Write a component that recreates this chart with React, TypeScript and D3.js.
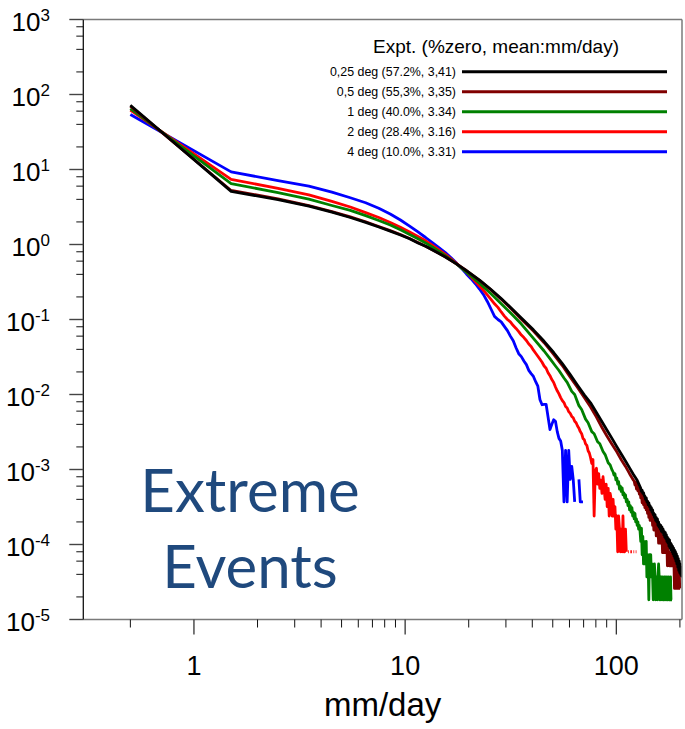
import React from "react";
import * as d3 from "d3";

// ---- axes ----
const xMajorTicks = [1, 10, 100];
const xMajorLabels = ["1", "10", "100"];
const xMinorTicks = [0.5, 2, 3, 4, 5, 6, 7, 8, 9, 20, 30, 40, 50, 60, 70, 80, 90, 200];
const yExponents = [-5, -4, -3, -2, -1, 0, 1, 2, 3];
const yMinorMantissas = [2, 4, 6, 8];
const xTitle = "mm/day";

// ---- legend ----
const legendTitle = "Expt. (%zero, mean:mm/day)";
const seriesNames = [
  "0,25 deg (57.2%, 3,41)",
  "0,5 deg (55,3%, 3,35)",
  "1 deg (40.0%, 3.34)",
  "2 deg (28.4%, 3.16)",
  "4 deg (10.0%, 3.31)",
];
const seriesColors = ["#000000", "#800000", "#008000", "#ff0000", "#0000ff"];

// ---- 0.25 deg ----
const bins025 = [0.5, 1.5, 2.5, 3.5, 4.5, 5.5, 6.5, 7.5, 8.5, 9.5, 10.5, 11.5, 12.5, 13.5, 15.5, 17.5, 19.5, 22.5, 25.5, 28.5, 31.5, 35.5, 40.5, 45.5, 50.5, 55.5, 60.5, 65.5, 70.5, 75.5, 80.5, 85.5, 90.5, 95.5, 100.5, 105.5, 110.5, 115.5, 120.5, 125.5, 130.5];
const pdf025 = [72, 5.1, 3.98, 3.24, 2.7, 2.29, 1.97, 1.71, 1.51, 1.34, 1.19, 1.05, 0.946, 0.843, 0.682, 0.551, 0.449, 0.335, 0.251, 0.19, 0.146, 0.105, 0.0728, 0.0512, 0.0363, 0.0258, 0.0184, 0.0133, 0.0099, 0.00774, 0.00575, 0.00433, 0.00331, 0.00258, 0.00202, 0.00161, 0.0013, 0.00105, 8.6e-4, 7.2e-4, 5.6e-4];
const tailStart025 = 131.5;
const tail025 = [5.1e-4, 5.3e-4, 4.8e-4, 4.9e-4, 4.5e-4,
  4.4e-4, 4.0e-4, 4.2e-4, 3.7e-4, 3.8e-4, 3.4e-4, 3.6e-4, 3.2e-4, 3.3e-4, 2.9e-4,
  3.1e-4, 2.7e-4, 2.9e-4, 2.5e-4, 2.6e-4, 2.3e-4, 2.5e-4, 2.1e-4, 2.3e-4, 2.0e-4,
  2.2e-4, 1.8e-4, 2.0e-4, 1.7e-4, 1.85e-4, 1.6e-4, 1.8e-4, 1.5e-4, 1.7e-4, 1.45e-4,
  1.6e-4, 1.35e-4, 1.5e-4, 1.25e-4, 1.45e-4, 1.2e-4, 1.35e-4, 1.1e-4, 1.25e-4, 1.05e-4,
  1.2e-4, 9.5e-5, 1.15e-4, 9.0e-5, 1.05e-4, 8.5e-5, 1.0e-4, 8.0e-5, 9.5e-5, 7.5e-5,
  9.0e-5, 7.0e-5, 8.5e-5, 6.5e-5, 8.0e-5, 6.0e-5, 7.5e-5, 5.5e-5, 7.0e-5, 5.0e-5,
  6.5e-5, 4.5e-5, 6.0e-5, 4.2e-5, 5.5e-5, 4.0e-5, 5.0e-5, 3.8e-5, 4.5e-5];

// ---- 0.5 deg ----
const bins05 = [0.5, 1.5, 2.5, 3.5, 4.5, 5.5, 6.5, 7.5, 8.5, 9.5, 10.5, 11.5, 12.5, 13.5, 15.5, 17.5, 19.5, 22.5, 25.5, 28.5, 31.5, 35.5, 40.5, 45.5, 50.5, 55.5, 60.5, 65.5, 70.5, 75.5, 80.5, 85.5, 90.5, 95.5, 100.5, 105.5, 110.5, 115.5, 120.5];
const pdf05 = [70, 5.25, 4.07, 3.31, 2.75, 2.33, 2.01, 1.74, 1.53, 1.36, 1.2, 1.06, 0.95, 0.847, 0.687, 0.553, 0.45, 0.333, 0.248, 0.186, 0.142, 0.101, 0.07, 0.049, 0.0343, 0.0243, 0.017, 0.0124, 0.0091, 0.0068, 0.005, 0.00363, 0.00275, 0.00216, 0.00172, 0.00135, 0.0011, 8.8e-4, 7.2e-4];
const tailStart05 = 121.5;
const tail05 = [7.0e-4, 6.2e-4, 6.8e-4, 5.5e-4, 6.5e-4, 5.2e-4, 5.7e-4, 4.7e-4, 5.2e-4, 4.2e-4,
  4.9e-4, 3.6e-4, 4.4e-4, 3.4e-4, 3.9e-4, 3.1e-4, 3.9e-4, 2.9e-4, 3.4e-4, 2.6e-4,
  3.4e-4, 2.3e-4, 2.9e-4, 2.1e-4, 2.9e-4, 2.1e-4, 2.6e-4, 1.8e-4, 2.3e-4, 1.56e-4,
  2.3e-4, 1.56e-4, 2.1e-4, 1.3e-4, 1.8e-4, 1.3e-4, 1.8e-4, 1.04e-4, 1.56e-4, 1.3e-4,
  1.04e-4, 1.56e-4, 1.04e-4, 1.3e-4, 7.8e-5, 1.3e-4, 1.04e-4, 7.8e-5, 1.3e-4, 7.8e-5,
  1.04e-4, 7.8e-5, 1.04e-4, 5.2e-5, 1.04e-4, 7.8e-5, 7.8e-5, 5.2e-5, 7.8e-5, 5.2e-5,
  7.8e-5, 5.2e-5, 7.8e-5, 5.2e-5, 7.8e-5, 5.2e-5, 5.2e-5, 2.6e-5, 7.8e-5, 5.2e-5,
  5.2e-5, 2.6e-5, 5.2e-5, 2.6e-5, 5.2e-5, 2.6e-5, 2.6e-5, 5.2e-5, 2.6e-5, 2.6e-5];

// ---- 1 deg ----
const bins1 = [0.5, 1.5, 2.5, 3.5, 4.5, 5.5, 6.5, 7.5, 8.5, 9.5, 10.5, 11.5, 12.5, 13.5, 15.5, 17.5, 19.5, 22.5, 25.5, 28.5, 31.5, 35.5, 40.5, 45.5, 48.5, 51.5, 53.5, 56.5, 58.5, 61.5, 63.5, 66.5, 68.5, 71.5, 73.5, 76.5, 78.5, 81.5, 83.5, 86.5, 88.5, 91.5, 93.5, 95.5];
const pdf1 = [65, 6.5, 4.9, 4.03, 3.31, 2.85, 2.43, 2.09, 1.82, 1.57, 1.36, 1.19, 1.05, 0.92, 0.71, 0.55, 0.428, 0.305, 0.22, 0.162, 0.123, 0.087, 0.056, 0.038, 0.03, 0.024, 0.0209, 0.0166, 0.0145, 0.011, 0.01, 0.0071, 0.0063, 0.0047, 0.0042, 0.0032, 0.003, 0.00234, 0.0022, 0.00174, 0.00158, 0.00123, 0.00115, 9.8e-4];
const tailStart1 = 96.5;
const tail1 = [9.3e-4, 8.4e-4, 8.8e-4, 7.3e-4, 7.7e-4, 6.4e-4, 6.9e-4, 5.5e-4, 6.0e-4, 5.1e-4,
  5.7e-4, 4.6e-4, 4.9e-4, 4.2e-4, 4.6e-4, 3.7e-4, 4.0e-4, 3.3e-4, 3.7e-4, 2.9e-4,
  3.3e-4, 2.7e-4, 3.1e-4, 2.4e-4, 2.7e-4, 2.2e-4, 2.6e-4, 2.0e-4, 2.2e-4, 1.8e-4,
  2.0e-4, 1.6e-4, 1.8e-4, 1.5e-4,
  1.1e-4, 1.65e-4, 7.3e-5, 1.28e-4, 5.5e-5, 1.1e-4, 9.2e-5, 5.5e-5, 1.1e-4, 3.7e-5,
  7.3e-5, 5.5e-5, 1.83e-5, 7.3e-5, 5.5e-5, 7.3e-5, 3.7e-5, 5.5e-5, 3.7e-5, 1.83e-5,
  3.7e-5, 5.5e-5, 3.7e-5, 1.83e-5, 3.7e-5, 3.7e-5, 1.83e-5, 3.7e-5, 5.5e-5, 3.7e-5,
  1.83e-5, 1.83e-5, 3.7e-5, 3.7e-5, 1.83e-5, 3.7e-5, 1.83e-5, 1.83e-5, 3.7e-5, 1.83e-5,
  3.7e-5, 1.83e-5, 1.83e-5, 3.7e-5, 1.83e-5, 1.83e-5, 3.7e-5, 1.83e-5, 1.83e-5, 1.83e-5,
  3.7e-5, 1.83e-5, 1.83e-5, 1.83e-5];

// ---- 2 deg ----
const bins2 = [0.5, 1.5, 2.5, 3.5, 4.5, 5.5, 6.5, 7.5, 8.5, 9.5, 10.5, 11.5, 12.5, 13.5, 15.5, 17.5, 19.5, 21.5, 23.5, 25.5];
const pdf2 = [62, 7.4, 5.6, 4.6, 3.76, 3.16, 2.66, 2.29, 1.97, 1.7, 1.47, 1.28, 1.12, 0.975, 0.74, 0.56, 0.43, 0.322, 0.245, 0.186];
const tailStart2 = 26.5;
const tail2 = [0.162, 0.145, 0.126, 0.111, 0.1, 0.093, 0.083, 0.076, 0.069, 0.062,
  0.0575, 0.0525, 0.047, 0.0437, 0.039, 0.0355, 0.0324, 0.0295, 0.0269, 0.024,
  0.0224, 0.0195, 0.0178, 0.0158, 0.0145, 0.0126, 0.0112, 0.0102, 0.0091, 0.0083,
  0.0078, 0.0069, 0.0066, 0.0059, 0.0056, 0.0051, 0.0049, 0.0044, 0.0042, 0.0038,
  0.00355, 0.0032, 0.003, 0.0026, 0.0025, 0.0022, 0.0021, 0.00178, 0.00166,
  1.44e-3, 1.2e-3, 1.36e-3, 2.4e-4, 9.6e-4, 1.04e-3, 6.4e-4, 8.8e-4, 5.6e-4, 7.2e-4,
  4.8e-4, 8.0e-4, 5.6e-4, 4.0e-4, 6.4e-4, 3.2e-4, 5.6e-4, 2.4e-4, 4.8e-4, 4.0e-4,
  2.4e-4, 4.0e-4, 2.4e-4, 3.2e-4, 1.6e-4, 2.4e-4, 8e-5, 2.4e-4, 1.6e-4, 8e-5,
  1.6e-4, 8e-5, 2.4e-4, 8e-5, 8e-5, 1.6e-4, 8e-5, 0, 8e-5, 8e-5,
  0, 8e-5, 8e-5, 8e-5, 0, 8e-5, 8e-5, 0, 8e-5, 8e-5, 0];

// ---- 4 deg ----
const bins4 = [0.5, 1.5, 2.5, 3.5, 4.5, 5.5, 6.5, 7.5, 8.5, 9.5, 10.5, 11.5, 12.5, 13.5, 14.5, 15.5, 16.5, 17.5, 18.5, 19.5];
const pdf4 = [54, 9.3, 7.1, 6.0, 5.0, 4.2, 3.6, 3.05, 2.55, 2.12, 1.76, 1.47, 1.24, 1.05, 0.9, 0.78, 0.665, 0.565, 0.48, 0.405];
const tailStart4 = 20.5;
const tail4 = [0.35, 0.3, 0.255, 0.215, 0.174, 0.138, 0.11, 0.1, 0.093, 0.081,
  0.071, 0.06, 0.052, 0.042, 0.035, 0.032, 0.028, 0.025, 0.021, 0.019,
  0.0174, 0.0148, 0.0129, 0.0085, 0.0073, 0.0074, 0.0074, 0.005, 0.0034, 0.004,
  0.0046, 0.0044, 0.0032, 0.0026, 0.0024, 0.0018,
  3.7e-4, 1.8e-3, 3.7e-4, 1.8e-3, 7.4e-4, 1.1e-3, 7.4e-4, 3.7e-4, 0, 0,
  7.4e-4, 3.7e-4, 3.7e-4, 3.7e-4, 0, 0, 0, 0, 0, 0, 0, 3.7e-4, 3.7e-4];

const overlayLines = ["Extreme", "Events"];

type Pt = { x: number; y: number };

function buildSeries(bins: number[], vals: number[], tailStart: number, tail: number[]): Pt[] {
  const pts: Pt[] = bins.map((b, i) => ({ x: b, y: vals[i] }));
  tail.forEach((v, i) => pts.push({ x: tailStart + i, y: v }));
  return pts;
}

const series = [
  buildSeries(bins025, pdf025, tailStart025, tail025),
  buildSeries(bins05, pdf05, tailStart05, tail05),
  buildSeries(bins1, pdf1, tailStart1, tail1),
  buildSeries(bins2, pdf2, tailStart2, tail2),
  buildSeries(bins4, pdf4, tailStart4, tail4),
];

const W = 685;
const H = 729;
const L = 83.3;
const R = 682;
const T = 19.5;
const B = 619.5;

export default function App() {
  const x = d3.scaleLog().domain([0.2993, 204.6]).range([L, R]);
  const y = d3.scaleLog().domain([1e-5, 1e3]).range([B, T]);

  const line = d3
    .line<Pt>()
    .defined((d) => d.y > 0)
    .x((d) => x(d.x))
    .y((d) => y(d.y));

  const font = "'Liberation Sans', Arial, Helvetica, sans-serif";
  const yMinor: number[] = [];
  yExponents.slice(0, -1).forEach((e) =>
    yMinorMantissas.forEach((m) => yMinor.push(m * Math.pow(10, e)))
  );

  const drawOrder = [4, 3, 2, 1, 0];

  return (
    <div style={{ position: "absolute", left: 0, top: 0 }}>
      <svg width={W} height={H} style={{ display: "block", background: "#fff" }}>
        <defs>
          <clipPath id="plotArea">
            <rect x={L} y={T} width={R - L} height={B - T} />
          </clipPath>
        </defs>

        {/* curves */}
        <g clipPath="url(#plotArea)" fill="none" strokeWidth={2.8} strokeLinejoin="round" strokeLinecap="butt">
          {drawOrder.map((i) => (
            <path key={i} d={line(series[i]) || ""} stroke={seriesColors[i]} />
          ))}
        </g>

        {/* frame */}
        <line x1={L} x2={R} y1={T} y2={T} stroke="#7a7a7a" strokeWidth={1.5} />
        <line x1={L} x2={R} y1={B} y2={B} stroke="#7a7a7a" strokeWidth={1.5} />
        <line x1={R} x2={R} y1={T} y2={B} stroke="#7a7a7a" strokeWidth={1.5} />
        <line x1={L} x2={L} y1={T} y2={B} stroke="#111" strokeWidth={1.3} />

        {/* y ticks */}
        {yExponents.map((e) => (
          <line key={"ym" + e} x1={L - 14} x2={L} y1={y(Math.pow(10, e))} y2={y(Math.pow(10, e))} stroke="#444" strokeWidth={1.4} />
        ))}
        {yMinor.map((v, i) => (
          <line key={"yn" + i} x1={L - 7} x2={L} y1={y(v)} y2={y(v)} stroke="#111" strokeWidth={1} />
        ))}
        {yExponents.map((e) => (
          <text key={"yl" + e} x={50} y={y(Math.pow(10, e)) + 11} textAnchor="end" fontFamily={font} fontSize={26} fill="#000">
            10
            <tspan fontSize={17} dy={-10}>{e < 0 ? "-" + Math.abs(e) : String(e)}</tspan>
          </text>
        ))}

        {/* x ticks */}
        {xMajorTicks.map((v) => (
          <line key={"xm" + v} x1={x(v)} x2={x(v)} y1={B} y2={B + 15} stroke="#333" strokeWidth={1.3} />
        ))}
        {xMinorTicks.map((v) => (
          <line key={"xn" + v} x1={x(v)} x2={x(v)} y1={B} y2={B + 8} stroke="#111" strokeWidth={1} />
        ))}
        {xMajorTicks.map((v, i) => (
          <text key={"xl" + v} x={x(v)} y={675} textAnchor="middle" fontFamily={font} fontSize={27} fill="#000">
            {xMajorLabels[i]}
          </text>
        ))}
        <text x={(L + R) / 2} y={716} textAnchor="middle" fontFamily={font} fontSize={33} fill="#000">
          {xTitle}
        </text>

        {/* legend */}
        <text x={496} y={53} textAnchor="middle" fontFamily={font} fontSize={19} fill="#000">
          {legendTitle}
        </text>
        {seriesNames.map((name, i) => {
          const ry = 71.7 + i * 20;
          return (
            <g key={name}>
              <text x={456} y={ry + 4.3} textAnchor="end" fontFamily={font} fontSize={12.4} fill="#000">
                {name}
              </text>
              <line x1={462} x2={667} y1={ry} y2={ry} stroke={seriesColors[i]} strokeWidth={3} />
            </g>
          );
        })}

        {/* overlay caption */}
        {overlayLines.map((t, i) => (
          <text key={t} x={250} y={511.7 + i * 76.6} textAnchor="middle" fontFamily="Lato, 'Open Sans', sans-serif" fontSize={60} fill="#1F497D">
            {t}
          </text>
        ))}
      </svg>
    </div>
  );
}
